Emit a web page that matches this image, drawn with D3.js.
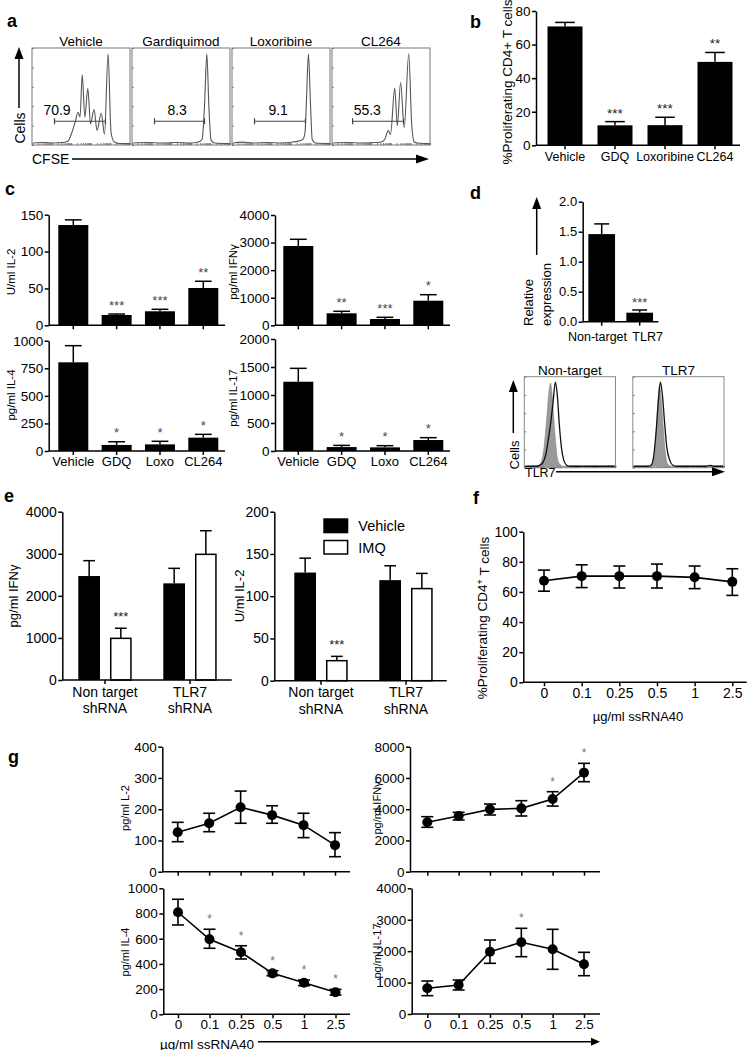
<!DOCTYPE html>
<html><head><meta charset="utf-8">
<script src="https://cdn.jsdelivr.net/npm/d3@7/dist/d3.min.js"></script>
<style>html,body{margin:0;padding:0;background:#fff}svg{display:block}</style>
</head><body>
<svg id="fig" width="751" height="1050" xmlns="http://www.w3.org/2000/svg"></svg>
<script>
// ================= DATA =================
// Panel a : CFSE histograms (x: relative CFSE 0-100, y: relative count 0-100)
const aTitles = ["Vehicle", "Gardiquimod", "Loxoribine", "CL264"];
const aGateLabels = ["70.9", "8.3", "9.1", "55.3"];
const aGateStart = [22.4, 22.4, 22.4, 20.4];
const aGateEnd = [75.5, 74.5, 75.5, 73.5];
const aGateLabelPos = [25, 46, 47, 35.7];
const aGateLevel = 23.7;
const aHistVehicle = [[0,1],[12,1.5],[22,1],[30,1.5],[36,2.5],[40.5,12],[44,23],[46.9,33],[49,28],[51.3,72],[54,28],[57.1,58],[59.9,21],[63.6,36],[66.7,14],[71.1,32],[74.5,10],[78.2,94],[81.3,12],[84.7,2],[90,0.5],[100,0.5]];
const aHistGardiquimod = [[0,1],[15,1.5],[30,1],[45,1.5],[60,1],[68,2],[72,5],[74.5,40],[76.9,94],[79,40],[81.3,4],[85,1],[100,0.5]];
const aHistLoxoribine = [[0,1],[10,2],[20,1],[35,1.5],[50,1],[62,2],[68,3],[71,4],[73,5],[75,12],[76.5,45],[78.6,94],[80.6,45],[82.5,5],[86,1],[100,0.5]];
const aHistCL264 = [[0,1],[15,1.5],[30,1],[45,1.5],[50,2],[54,5],[57.5,14],[59.9,10],[64.3,58],[67,19],[70.4,64],[74.2,17],[78.9,94],[82,20],[84.7,2],[88,1],[100,0.5]];

// Panel b
const bCats = ["Vehicle", "GDQ", "Loxoribine", "CL264"];
const bMeans = [70.8, 11.9, 12.0, 49.7];
const bErrTop = [73.2, 14.1, 16.7, 55.3];
const bStars = ["", "***", "***", "**"];

// Panel c
const cCats = ["Vehicle", "GDQ", "Loxo", "CL264"];
const cIL2 = [136, 14, 19, 50.6];
const cIL2Err = [143, 15.3, 21.7, 59.7];
const cIL2Stars = ["", "***", "***", "**"];
const cIFNg = [2876, 435, 228, 892];
const cIFNgErr = [3119, 508, 290, 1110];
const cIFNgStars = ["", "**", "***", "*"];
const cIL4 = [804, 55, 60, 121];
const cIL4Err = [955, 84, 88, 151];
const cIL4Stars = ["", "*", "*", "*"];
const cIL17 = [1237, 70, 65, 196];
const cIL17Err = [1476, 100, 95, 238];
const cIL17Stars = ["", "*", "*", "*"];

// Panel d
const dCats = ["Non-target", "TLR7"];
const dMeans = [1.46, 0.15];
const dErrTop = [1.63, 0.195];
const dStars = ["", "***"];
const dHistNTgray = [[0,0.5],[12,0.5],[15,1.5],[18,6],[21,22],[24,55],[26.5,85],[28.3,95],[30,82],[32,55],[34,28],[36,10],[38.6,3],[42,0.5],[100,0.5]];
const dHistNTblack = [[0,0.5],[12,0.5],[16,1.5],[20,5],[23,14],[26,32],[28.5,50],[31,72],[33.8,96],[36,80],[38,50],[40.5,22],[43,8],[46,2],[50,0.5],[100,0.5]];
const dHistTgray = [[0,0.5],[17,0.5],[20.6,2],[23,12],[25.5,45],[27.5,80],[28.7,92],[30.5,80],[33,45],[35.5,15],[38,3],[42,0.5],[100,0.5]];
const dHistTblack = [[0,0.5],[15,0.5],[19.5,2],[22,10],[25,40],[27.5,75],[29.8,96],[32,82],[34.5,50],[37,22],[40,8],[43.4,2],[48,0.5],[80,0.5],[86,1.5],[90,0.5],[100,0.5]];

// Panel e
const eGroups = ["Non target shRNA", "TLR7 shRNA"];
const eGroupLines = [["Non target", "shRNA"], ["TLR7", "shRNA"]];
const eTreat = ["Vehicle", "IMQ"];
const eIFNg = [[2471, 990], [2297, 2987]];
const eIFNgErr = [[2836, 1230], [2654, 3548]];
const eIFNgStars = [["", "***"], ["", ""]];
const eIL2 = [[128, 23.7], [119, 109]];
const eIL2Err = [[145, 28.8], [136, 127]];
const eIL2Stars = [["", "***"], ["", ""]];

// Panel f / g : ssRNA40 dose
const doses = ["0", "0.1", "0.25", "0.5", "1", "2.5"];
const fMean = [67.4, 70.5, 70.5, 70.5, 69.7, 66.7];
const fHi = [74.5, 78.0, 77.2, 78.5, 77.2, 75.4];
const fLo = [60.5, 62.9, 62.6, 62.6, 62.2, 57.7];
const gIL2Mean = [126, 155, 206, 181, 149, 85];
const gIL2Hi = [158, 187, 258, 211, 187, 125];
const gIL2Lo = [96, 128, 155, 155, 109, 48];
const gIL2Stars = ["", "", "", "", "", ""];
const gIFNgMean = [3162, 3565, 3990, 4055, 4650, 6340];
const gIFNgHi = [3520, 3800, 4330, 4545, 5120, 6935];
const gIFNgLo = [2842, 3310, 3630, 3565, 4200, 5760];
const gIFNgStars = ["", "", "", "", "*", "*"];
const gIL4Mean = [810, 595, 492, 325, 251, 175];
const gIL4Hi = [913, 675, 544, 346, 272, 198];
const gIL4Lo = [709, 524, 439, 306, 227, 153];
const gIL4Stars = ["", "*", "*", "*", "*", "*"];
const gIL17Mean = [818, 923, 1982, 2281, 2058, 1581];
const gIL17Hi = [1050, 1082, 2354, 2727, 2695, 1963];
const gIL17Lo = [583, 764, 1613, 1823, 1422, 1219];
const gIL17Stars = ["", "", "", "*", "", ""];

// ================= HELPERS =================
const FONT = '"Liberation Sans", Arial, Helvetica, sans-serif';
const svg = d3.select("#fig").attr("font-family", FONT);

function text(x, y, s, size, o = {}) {
  const t = svg.append("text").attr("x", x).attr("y", y).attr("font-size", size)
    .attr("fill", o.fill || "#000").text(s);
  if (o.anchor) t.attr("text-anchor", o.anchor);
  if (o.weight) t.attr("font-weight", o.weight);
  return t;
}
function vtext(x, y, s, size, anchor = "middle") {
  return svg.append("text").attr("transform", `translate(${x},${y}) rotate(-90)`)
    .attr("text-anchor", anchor).attr("dy", "0.35em").attr("font-size", size).attr("fill", "#000").text(s);
}
function ln(x1, y1, x2, y2, w = 1.5, c = "#000") {
  svg.append("line").attr("x1", x1).attr("y1", y1).attr("x2", x2).attr("y2", y2)
    .attr("stroke", c).attr("stroke-width", w);
}
function arrowRight(x1, x2, y, head = 13, hw = 4.5) {
  ln(x1, y, x2 - head + 1, y, 1.5);
  svg.append("path").attr("d", `M${x2},${y}L${x2 - head},${y - hw}L${x2 - head},${y + hw}Z`).attr("fill", "#000");
}
function arrowUp(x, yb, yt, head = 12, hw = 4.5) {
  ln(x, yb, x, yt + head - 1, 1.5);
  svg.append("path").attr("d", `M${x},${yt}L${x - hw},${yt + head}L${x + hw},${yt + head}Z`).attr("fill", "#000");
}
function yAxis(y, x, ticks, size, fmt) {
  const ax = d3.axisLeft(y).tickValues(ticks).tickSize(4).tickSizeOuter(0).tickPadding(1.5)
    .tickFormat(fmt || d3.format("d"));
  const g = svg.append("g").attr("transform", `translate(${x},0)`).call(ax)
    .attr("font-family", FONT).attr("font-size", size);
  g.selectAll("path, line").attr("stroke-width", 1.5).attr("stroke", "#000");
  g.selectAll("text").attr("fill", "#000");
  return g;
}
function xAxis(scale, x0, x1, y, size, show, pad = 1.5) {
  ln(x0, y, x1, y, 1.5);
  const ax = d3.axisBottom(scale).tickSize(4).tickSizeOuter(0).tickPadding(pad);
  if (!show) ax.tickFormat("");
  const g = svg.append("g").attr("transform", `translate(0,${y})`).call(ax)
    .attr("font-family", FONT).attr("font-size", size);
  g.select(".domain").remove();
  g.selectAll("line").attr("stroke-width", 1.5).attr("stroke", "#000");
  g.selectAll("text").attr("fill", "#000");
  return g;
}
function barChart(o) {
  const y = d3.scaleLinear().domain([0, o.max]).range([o.yBottom, o.yTop]);
  const n = o.cats.length;
  const step = (o.cLast - o.cFirst) / (n - 1);
  const pi = 1 - o.barW / step;
  const x = d3.scaleBand().domain(o.cats).range([o.cFirst - step / 2, o.cLast + step / 2])
    .paddingInner(pi).paddingOuter(pi / 2);
  const bw = x.bandwidth();
  o.cats.forEach((c, i) => {
    const cx = x(c) + bw / 2;
    ln(cx, y(o.values[i]), cx, y(o.errs[i]));
    ln(cx - bw * 0.28, y(o.errs[i]), cx + bw * 0.28, y(o.errs[i]));
    if (o.stars[i]) text(cx, y(o.errs[i]) - o.starGap, o.stars[i], o.starSize, { anchor: "middle", fill: o.starFill });
  });
  svg.append("g").selectAll("rect").data(o.cats).join("rect")
    .attr("x", c => x(c)).attr("y", (c, i) => y(o.values[i]))
    .attr("width", bw).attr("height", (c, i) => y(0) - y(o.values[i])).attr("fill", "#000");
  yAxis(y, o.axisX, o.ticks, o.tickSize, o.fmt);
  xAxis(x, o.axisX, o.xEnd, o.yBottom, o.labelSize, o.showX, o.pad);
  return { x, y };
}
function groupChart(o) {
  const y = d3.scaleLinear().domain([0, o.max]).range([o.yBottom, o.yTop]);
  const step = o.gLast - o.gFirst;
  const x0 = d3.scaleBand().domain(o.groups).range([o.gFirst - step / 2, o.gLast + step / 2]);
  const x1 = d3.scaleBand().domain(eTreat).range([step * 0.186, step * 0.814]).paddingInner(0.315);
  const bw = x1.bandwidth();
  o.groups.forEach((g, gi) => {
    eTreat.forEach((t, ti) => {
      const bx = x0(g) + x1(t), cx = bx + bw / 2;
      const v = o.values[gi][ti], e = o.errs[gi][ti];
      ln(cx, y(v), cx, y(e));
      ln(cx - bw * 0.27, y(e), cx + bw * 0.27, y(e));
      svg.append("rect").attr("x", ti ? bx + 0.75 : bx).attr("y", y(v))
        .attr("width", ti ? bw - 1.5 : bw).attr("height", y(0) - y(v))
        .attr("fill", ti ? "#fff" : "#000").attr("stroke", "#000").attr("stroke-width", ti ? 1.5 : 0);
      if (o.stars[gi][ti]) text(cx, y(e) - 7, o.stars[gi][ti], 13, { anchor: "middle", fill: "#222" });
    });
  });
  yAxis(y, o.axisX, o.ticks, 14);
  xAxis(x0, o.axisX, o.xEnd, o.yBottom, 14, false);
  o.groups.forEach((g, gi) => {
    const cx = x0(g) + step / 2;
    text(cx, o.yBottom + 16.5, eGroupLines[gi][0], 14, { anchor: "middle" });
    text(cx, o.yBottom + 33, eGroupLines[gi][1], 14, { anchor: "middle" });
  });
  return { x0, x1, y };
}
function lineChart(o) {
  const y = d3.scaleLinear().domain([0, o.max]).range([o.yBottom, o.yTop]);
  const x = d3.scalePoint().domain(doses).range([o.pFirst, o.pLast]);
  yAxis(y, o.axisX, o.ticks, o.tickSize);
  xAxis(x, o.axisX, o.xEnd, o.yBottom, o.tickSize, o.showX, o.pad);
  svg.append("path").attr("d", d3.line()(doses.map((d, i) => [x(d), y(o.mean[i])])))
    .attr("fill", "none").attr("stroke", "#000").attr("stroke-width", 1.6);
  doses.forEach((d, i) => {
    const cx = x(d);
    ln(cx, y(o.lo[i]), cx, y(o.hi[i]), 1.6);
    ln(cx - 6, y(o.lo[i]), cx + 6, y(o.lo[i]), 1.6);
    ln(cx - 6, y(o.hi[i]), cx + 6, y(o.hi[i]), 1.6);
    if (o.stars && o.stars[i]) text(cx, y(o.hi[i]) - 6, o.stars[i], 12, { anchor: "middle", fill: "#777" });
  });
  svg.append("g").selectAll("circle").data(doses).join("circle")
    .attr("cx", d => x(d)).attr("cy", (d, i) => y(o.mean[i])).attr("r", 5).attr("fill", "#000");
  return { x, y };
}
function histBox(left, w, top, bot, stroke) {
  svg.append("rect").attr("x", left).attr("y", top).attr("width", w).attr("height", bot - top)
    .attr("fill", "none").attr("stroke", stroke).attr("stroke-width", 1);
  const lx = d3.scaleLog().domain([1, 1e5]).range([left, left + w]);
  const gb = svg.append("g").attr("transform", `translate(0,${bot})`)
    .call(d3.axisTop(lx).tickSize(2).tickSizeOuter(0).tickFormat(""));
  gb.select(".domain").remove();
  gb.selectAll("line").attr("stroke", "#666").attr("stroke-width", 0.8);
  const ly = d3.scaleLinear().domain([0, 100]).range([bot, top]);
  const gl = svg.append("g").attr("transform", `translate(${left},0)`)
    .call(d3.axisRight(ly).ticks(6).tickSize(2).tickSizeOuter(0).tickFormat(""));
  gl.select(".domain").remove();
  gl.selectAll("line").attr("stroke", "#666").attr("stroke-width", 0.8);
}

// ================= PANEL LABELS =================
[["a", 7, 27], ["b", 470, 28], ["c", 5, 195], ["d", 470, 199], ["e", 4, 502], ["f", 473, 504], ["g", 8, 763]]
  .forEach(([t, x, y]) => text(x, y, t, 18, { weight: "bold" }));

// ================= PANEL a =================
{
  const aTop = 48, aBot = 145;
  const aX = d3.scaleBand().domain(aTitles).range([32, 430]).paddingInner(0.02);
  const hists = [aHistVehicle, aHistGardiquimod, aHistLoxoribine, aHistCL264];
  aTitles.forEach((t, i) => {
    const left = aX(t), w = aX.bandwidth();
    histBox(left, w, aTop, aBot, "#777");
    const hx = d3.scaleLinear().domain([0, 100]).range([left + 1, left + w - 1]);
    const hy = d3.scaleLinear().domain([0, 100]).range([aBot - 1, aTop]);
    svg.append("path").attr("d", d3.line().x(d => hx(d[0])).y(d => hy(d[1])).curve(d3.curveMonotoneX)(hists[i]))
      .attr("fill", "none").attr("stroke", "#555").attr("stroke-width", 1.1);
    const gy = hy(aGateLevel);
    ln(hx(aGateStart[i]), gy, hx(aGateEnd[i]), gy, 1.2, "#444");
    ln(hx(aGateStart[i]), gy - 3, hx(aGateStart[i]), gy + 3, 1.2, "#444");
    ln(hx(aGateEnd[i]), gy - 3, hx(aGateEnd[i]), gy + 3, 1.2, "#444");
    text(hx(aGateLabelPos[i]), gy - 6, aGateLabels[i], 14, { anchor: "middle" });
    text(left + w / 2, 46, t, 13.5, { anchor: "middle" });
  });
  arrowUp(19, 108, 47, 12, 4.5);
  vtext(20, 128, "Cells", 14);
  text(32, 164, "CFSE", 14);
  arrowRight(72, 429, 159, 13, 4.5);
}

// ================= PANEL b =================
barChart({ axisX: 536, xEnd: 740, yBottom: 145.3, yTop: 11, max: 80, ticks: [0, 20, 40, 60, 80],
  cats: bCats, cFirst: 565, cLast: 715, barW: 35, values: bMeans, errs: bErrTop, stars: bStars,
  starGap: 4, starSize: 13.5, starFill: "#222", tickSize: 13.5, labelSize: 12.5, showX: true, pad: 3 });
vtext(507, 82, "%Proliferating CD4+ T cells", 13.5);

// ================= PANEL c =================
const cCommon = { barW: 30, starGap: 4.5, starSize: 13, starFill: "#4a4a4a", tickSize: 13.5, labelSize: 13, pad: 1.5 };
barChart(Object.assign({}, cCommon, { axisX: 48.7, xEnd: 225, yBottom: 325.3, yTop: 214.7, max: 150, ticks: [0, 50, 100, 150],
  cats: cCats, cFirst: 73.3, cLast: 203.3, values: cIL2, errs: cIL2Err, stars: cIL2Stars, showX: false }));
barChart(Object.assign({}, cCommon, { axisX: 275, xEnd: 450, yBottom: 325.3, yTop: 215, max: 4000, ticks: [0, 1000, 2000, 3000, 4000],
  cats: cCats, cFirst: 298.3, cLast: 428.3, values: cIFNg, errs: cIFNgErr, stars: cIFNgStars, showX: false }));
barChart(Object.assign({}, cCommon, { axisX: 48.7, xEnd: 225, yBottom: 451, yTop: 340.7, max: 1000, ticks: [0, 250, 500, 750, 1000],
  cats: cCats, cFirst: 73.3, cLast: 203.3, values: cIL4, errs: cIL4Err, stars: cIL4Stars, showX: true }));
barChart(Object.assign({}, cCommon, { axisX: 275, xEnd: 450, yBottom: 451, yTop: 339, max: 2000, ticks: [0, 500, 1000, 1500, 2000],
  cats: cCats, cFirst: 298.3, cLast: 428.3, values: cIL17, errs: cIL17Err, stars: cIL17Stars, showX: true }));
vtext(11, 272, "U/ml IL-2", 11.5);
vtext(233, 272, "pg/ml IFNγ", 11.5);
vtext(11, 395, "pg/ml IL-4", 11.5);
vtext(233, 398, "pg/ml IL-17", 11.5);

// ================= PANEL d =================
{
  const r = barChart({ axisX: 582.7, xEnd: 658.3, yBottom: 321.7, yTop: 201.7, max: 2, ticks: [0, 0.5, 1, 1.5, 2], fmt: d3.format(".1f"),
    cats: dCats, cFirst: 601.7, cLast: 639.7, barW: 26.7, values: dMeans, errs: dErrTop, stars: dStars,
    starGap: 3, starSize: 13, starFill: "#444", tickSize: 13, labelSize: 12.5, showX: false });
  const bw = r.x.bandwidth();
  text(r.x("Non-target") + bw + 12, 341, "Non-target", 12.5, { anchor: "end" });
  text(r.x("TLR7") + 6, 341, "TLR7", 12.5, { anchor: "start" });
  arrowUp(536.7, 255, 197, 12, 4.5);
  vtext(528, 326, "Relative", 13, "start");
  vtext(546, 326, "expression", 13, "start");

  const dTop = 376.7, dBot = 467.7;
  const dX = d3.scaleBand().domain(dCats).range([524.3, 724]).paddingInner(0.16);
  const grays = [dHistNTgray, dHistTgray], blacks = [dHistNTblack, dHistTblack];
  dCats.forEach((c, i) => {
    const left = dX(c), w = dX.bandwidth();
    histBox(left, w, dTop, dBot, "#888");
    const hx = d3.scaleLinear().domain([0, 100]).range([left + 1, left + w - 1]);
    const hy = d3.scaleLinear().domain([0, 100]).range([dBot - 1, dTop + 2]);
    svg.append("path").attr("d", d3.area().x(d => hx(d[0])).y0(dBot - 1).y1(d => hy(d[1])).curve(d3.curveMonotoneX)(grays[i]))
      .attr("fill", "#999").attr("stroke", "#888").attr("stroke-width", 0.6);
    svg.append("path").attr("d", d3.line().x(d => hx(d[0])).y(d => hy(d[1])).curve(d3.curveMonotoneX)(blacks[i]))
      .attr("fill", "none").attr("stroke", "#111").attr("stroke-width", 1.3);
    text(left + w / 2, 374.5, c, 13.5, { anchor: "middle" });
  });
  arrowUp(513.3, 433, 380, 12, 4.5);
  vtext(514, 455, "Cells", 13);
  text(525, 477, "TLR7", 12.5);
  arrowRight(556, 725, 471.7, 13, 4.5);
}

// ================= PANEL e =================
groupChart({ axisX: 62.3, xEnd: 231.7, yBottom: 680, yTop: 511.7, max: 4000, ticks: [0, 1000, 2000, 3000, 4000],
  groups: eGroups, gFirst: 105, gLast: 190, values: eIFNg, errs: eIFNgErr, stars: eIFNgStars });
groupChart({ axisX: 274.3, xEnd: 446.7, yBottom: 680.7, yTop: 511.7, max: 200, ticks: [0, 50, 100, 150, 200],
  groups: eGroups, gFirst: 321, gLast: 406, values: eIL2, errs: eIL2Err, stars: eIL2Stars });
vtext(13, 596, "pg/ml IFNγ", 13);
vtext(239, 596, "U/ml IL-2", 13);
svg.append("rect").attr("x", 323.3).attr("y", 518.3).attr("width", 25).attr("height", 15).attr("fill", "#000");
svg.append("rect").attr("x", 324).attr("y", 540.5).attr("width", 23.6).attr("height", 13.5).attr("fill", "#fff").attr("stroke", "#000").attr("stroke-width", 1.5);
text(358.3, 531, eTreat[0], 14.5);
text(358.3, 552.5, eTreat[1], 14.5);

// ================= PANEL f =================
lineChart({ axisX: 523.3, xEnd: 746.7, yBottom: 682.3, yTop: 531.7, max: 100, ticks: [0, 20, 40, 60, 80, 100],
  pFirst: 544, pLast: 732.3, mean: fMean, hi: fHi, lo: fLo, tickSize: 14, showX: true, pad: 2 });
{
  const t = svg.append("text").attr("transform", "translate(482,618) rotate(-90)").attr("text-anchor", "middle")
    .attr("dy", "0.35em").attr("font-size", 13.5);
  t.append("tspan").text("%Proliferating CD4");
  t.append("tspan").attr("dy", "-0.45em").attr("font-size", 9).text("+");
  t.append("tspan").attr("dy", "0.45em").text(" T cells");
}
text(638, 721, "µg/ml ssRNA40", 13, { anchor: "middle" });

// ================= PANEL g =================
lineChart({ axisX: 162.3, xEnd: 350, yBottom: 871.7, yTop: 746.7, max: 400, ticks: [0, 100, 200, 300, 400],
  pFirst: 177.7, pLast: 335, mean: gIL2Mean, hi: gIL2Hi, lo: gIL2Lo, stars: gIL2Stars, tickSize: 13.5, showX: false });
lineChart({ axisX: 410, xEnd: 600, yBottom: 871.7, yTop: 746.7, max: 8000, ticks: [0, 2000, 4000, 6000, 8000],
  pFirst: 427.3, pLast: 584, mean: gIFNgMean, hi: gIFNgHi, lo: gIFNgLo, stars: gIFNgStars, tickSize: 13.5, showX: false });
lineChart({ axisX: 163.3, xEnd: 350, yBottom: 1014.3, yTop: 888.3, max: 1000, ticks: [0, 200, 400, 600, 800, 1000],
  pFirst: 178, pLast: 335.5, mean: gIL4Mean, hi: gIL4Hi, lo: gIL4Lo, stars: gIL4Stars, tickSize: 13.5, showX: true, pad: 1.5 });
lineChart({ axisX: 411.7, xEnd: 600, yBottom: 1014, yTop: 888.3, max: 4000, ticks: [0, 1000, 2000, 3000, 4000],
  pFirst: 427.3, pLast: 584, mean: gIL17Mean, hi: gIL17Hi, lo: gIL17Lo, stars: gIL17Stars, tickSize: 13.5, showX: true, pad: 1.5 });
vtext(125, 808, "pg/ml L-2", 11);
vtext(377, 808, "pg/ml IFNγ", 11);
vtext(125, 952, "pg/ml IL-4", 11);
vtext(377, 951, "pg/ml IL-17", 11);
text(160, 1048.5, "µg/ml ssRNA40", 13.5);
arrowRight(258, 600, 1041.7, 9, 4);
</script></body></html>
